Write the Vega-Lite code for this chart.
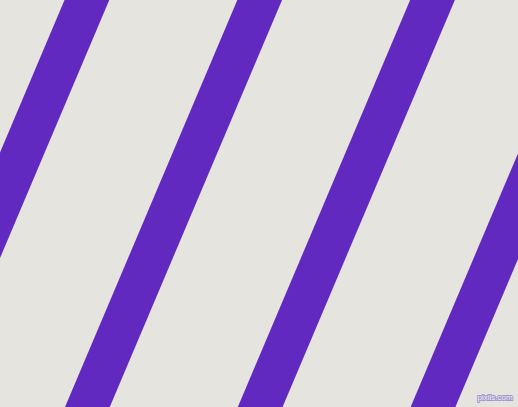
{
  "$schema": "https://vega.github.io/schema/vega-lite/v6.json",
  "width": 518,
  "height": 407,
  "autosize": {"type": "fit", "contains": "padding"},
  "padding": 0,
  "background": "#e6e4de",
  "config": {"view": {"stroke": null}},
  "layer": [
    {
      "data": {
        "values": [
          {"stripe": 1, "x": 99.6, "y": -30},
          {"stripe": 1, "x": -98.1, "y": 437},
          {"stripe": 2, "x": 272.4, "y": -30},
          {"stripe": 2, "x": 74.7, "y": 437},
          {"stripe": 3, "x": 445.2, "y": -30},
          {"stripe": 3, "x": 247.5, "y": 437},
          {"stripe": 4, "x": 618.0, "y": -30},
          {"stripe": 4, "x": 420.3, "y": 437}
        ]
      },
      "mark": {"type": "line", "clip": true, "strokeWidth": 41.2, "strokeCap": "butt", "color": "#6229c0"},
      "encoding": {
        "x": {"field": "x", "type": "quantitative", "scale": {"domain": [0, 518], "nice": false, "zero": false}, "axis": null},
        "y": {"field": "y", "type": "quantitative", "scale": {"domain": [0, 407], "nice": false, "zero": false, "reverse": true}, "axis": null},
        "detail": {"field": "stripe", "type": "nominal"},
        "order": {"field": "y", "type": "quantitative"}
      }
    },
    {
      "data": {"values": [{"x": 495, "y": 400, "label": "pixlis.com"}]},
      "layer": [
        {
          "mark": {"type": "text", "font": "Liberation Sans", "fontSize": 8, "align": "center", "baseline": "alphabetic", "fill": "#a496cc", "stroke": "#a496cc", "strokeWidth": 2, "strokeJoin": "round"}
        },
        {
          "mark": {"type": "text", "font": "Liberation Sans", "fontSize": 8, "align": "center", "baseline": "alphabetic", "fill": "#f2eff8"}
        }
      ],
      "encoding": {
        "x": {"field": "x", "type": "quantitative"},
        "y": {"field": "y", "type": "quantitative"},
        "text": {"field": "label"}
      }
    }
  ]
}
